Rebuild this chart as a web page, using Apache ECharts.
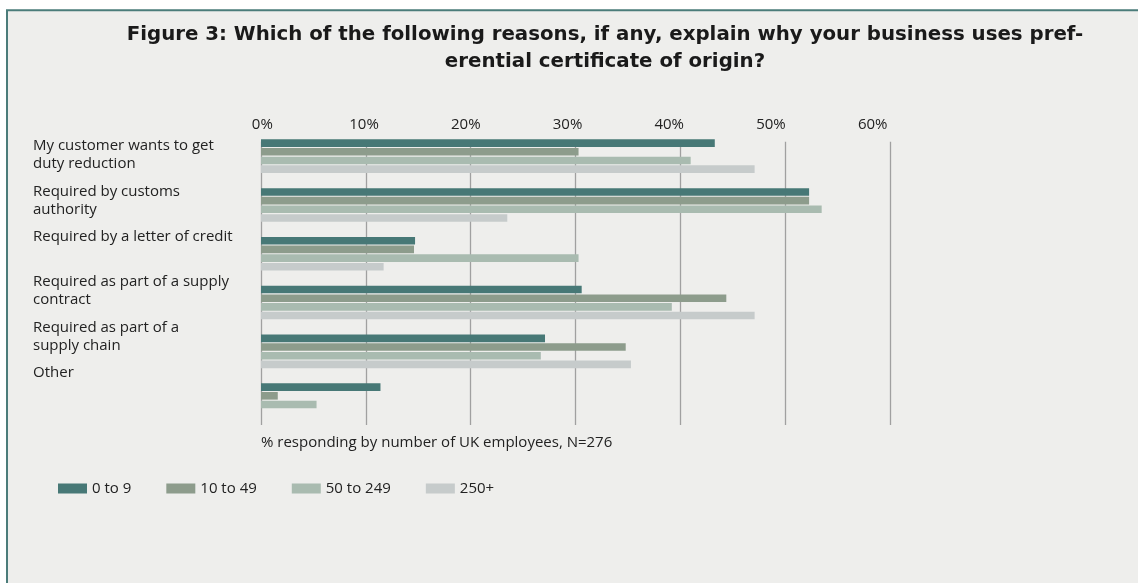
<!DOCTYPE html>
<html>
<head>
<meta charset="utf-8">
<script src="https://cdn.jsdelivr.net/npm/echarts@6/dist/echarts.min.js"></script>
<style>
  html, body { margin: 0; padding: 0; background: #ffffff; }
  #chart { width: 1138px; height: 583px; }
</style>
</head>
<body>
<div id="chart"></div>
<script>
// ---- data ----
const titleText = 'Figure 3: Which of the following reasons, if any, explain why your business uses pref-\nerential certificate of origin?';
const axisNote = '% responding by number of UK employees, N=276';
const categories = [
  'My customer wants to get\nduty reduction',
  'Required by customs\nauthority',
  'Required by a letter of credit',
  'Required as part of a supply\ncontract',
  'Required as part of a\nsupply chain',
  'Other'
];
const seriesNames = ['0 to 9', '10 to 49', '50 to 249', '250+'];
const values0to9    = [43.3, 52.3, 14.7, 30.6, 27.1, 11.4];
const values10to49  = [30.3, 52.3, 14.6, 44.4, 34.8, 1.6];
const values50to249 = [41.0, 53.5, 30.3, 39.2, 26.7, 5.3];
const values250plus = [47.1, 23.5, 11.7, 47.1, 35.3, 0];
const axisMin = 0, axisMax = 60, axisStep = 10;

// ---- styles ----
const colors = ['#477876', '#8d9c8c', '#a9bbb0', '#c6cbcb'];
const bodyFont = 'Open Sans';
const textColor = '#222222';
const seriesValues = [values0to9, values10to49, values50to249, values250plus];

const chart = echarts.init(document.getElementById('chart'), null, { renderer: 'canvas' });

const hiddenX = (gi) => ({ type: 'value', gridIndex: gi, min: axisMin, max: axisMax, interval: axisStep, show: false });
const hiddenY = (gi) => ({ type: 'category', gridIndex: gi, data: categories, inverse: true, show: false });

chart.setOption({
  backgroundColor: 'transparent',
  animation: false,
  color: colors,
  graphic: {
    elements: [{
      type: 'rect', z: -100, silent: true,
      shape: { x: 7, y: 10.3, width: 1200, height: 700 },
      style: { fill: '#eeeeec', stroke: '#4b7c7a', lineWidth: 2 }
    }]
  },
  title: [{
    text: titleText,
    left: 600, top: 16, textAlign: 'center',
    textStyle: { fontFamily: 'DejaVu Sans', fontWeight: 'bold', fontSize: 19.8, lineHeight: 27, color: '#1a1a1a' }
  }, {
    text: axisNote,
    left: 256, top: 430,
    textStyle: { fontFamily: bodyFont, fontWeight: 'normal', fontSize: 15, color: textColor }
  }],
  legend: {
    data: seriesNames,
    left: 58, top: 481, padding: 0,
    icon: 'rect', itemWidth: 29, itemHeight: 10, itemGap: 35,
    textStyle: { fontFamily: bodyFont, fontSize: 15, color: textColor }
  },
  grid: [
    { left: 261, top: 131.75, width: 628.8, height: 292.8 },   // bars
    { left: 261, top: 141.7, width: 628.8, height: 283.3 },    // gridlines
    { left: 262.3, top: 141.7, width: 610.4, height: 283.3 },  // top tick labels
    { left: 260, top: 114.3, width: 10, height: 272.4 }        // category labels
  ],
  xAxis: [
    hiddenX(0),
    {
      type: 'value', gridIndex: 1, min: axisMin, max: axisMax, interval: axisStep,
      axisLabel: { show: false }, axisLine: { show: false }, axisTick: { show: false },
      splitLine: { show: true, lineStyle: { color: '#a0a0a0', width: 1.3 } }
    },
    {
      type: 'value', gridIndex: 2, position: 'top', min: axisMin, max: axisMax, interval: axisStep,
      axisLabel: { formatter: '{value}%', margin: 9, fontFamily: bodyFont, fontSize: 15, color: textColor },
      axisLine: { show: false }, axisTick: { show: false }, splitLine: { show: false }
    },
    hiddenX(3)
  ],
  yAxis: [
    hiddenY(0),
    hiddenY(1),
    hiddenY(2),
    {
      type: 'category', gridIndex: 3, data: categories, inverse: true,
      axisLine: { show: false }, axisTick: { show: false }, splitLine: { show: false },
      axisLabel: {
        interval: 0, align: 'left', verticalAlign: 'top', margin: 227,
        fontFamily: bodyFont, fontSize: 15, lineHeight: 18, color: textColor
      }
    }
  ],
  series: seriesNames.map((name, i) => ({
    name: name,
    type: 'bar',
    xAxisIndex: 0, yAxisIndex: 0,
    data: seriesValues[i],
    barWidth: 7.6,
    barGap: '14%',
    itemStyle: { color: colors[i] }
  }))
});
</script>
</body>
</html>
